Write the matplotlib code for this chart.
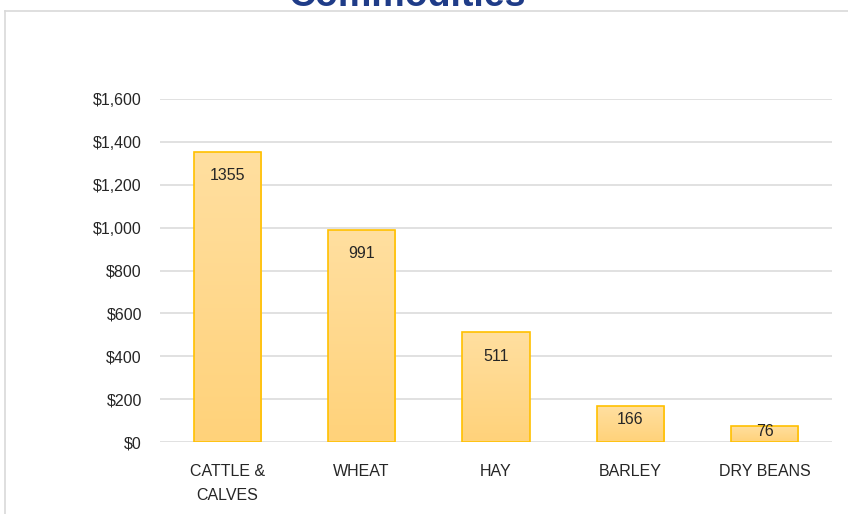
import numpy as np
import matplotlib.pyplot as plt
from matplotlib.lines import Line2D
from matplotlib.ticker import FuncFormatter
from matplotlib.colors import LinearSegmentedColormap

# Chart data
categories = ['CATTLE &\nCALVES', 'WHEAT', 'HAY', 'BARLEY', 'DRY BEANS']
values = [1355, 991, 511, 166, 76]
title = 'Commodities'

plt.rcParams['font.family'] = ['Liberation Sans', 'DejaVu Sans']

fig = plt.figure(figsize=(8.48, 5.14), dpi=100)
ax = fig.add_axes([0.1887, 0.14, 0.7923, 0.6674])

x_pos = np.arange(len(categories))
bars = ax.bar(x_pos, values, width=0.5, color='#FFD98B', edgecolor='#FFC000',
              linewidth=1.2, zorder=2)

# vertical gradient fill, lighter at top
grad = np.linspace(0, 1, 256).reshape(-1, 1)
cmap = LinearSegmentedColormap.from_list('g', ['#FFD27A', '#FFDFA0'])
for b in bars:
    x0, y0 = b.get_x(), b.get_y()
    w, h = b.get_width(), b.get_height()
    im = ax.imshow(grad, extent=[x0, x0 + w, y0, y0 + h], origin='lower',
                   cmap=cmap, aspect='auto', zorder=2.1)
    im.set_clip_path(b)
    b.set_facecolor('none')
    b.set_zorder(2.2)

# value labels inside the bar end
for xi, v in zip(x_pos, values):
    off = min(112, v * 0.38)
    ax.text(xi, v - off, str(v), ha='center', va='center', fontsize=11.5,
            color='#262626', zorder=3)

ax.set_xlim(-0.5, len(categories) - 0.5)
ax.set_ylim(0, 1600)
ax.set_yticks(np.arange(0, 1601, 200))
ax.yaxis.set_major_formatter(FuncFormatter(lambda v, p: '${:,.0f}'.format(v)))
ax.set_xticks(x_pos)
ax.set_xticklabels(categories, linespacing=1.75)
ax.tick_params(axis='both', length=0, labelsize=11.5, colors='#262626')
ax.tick_params(axis='x', pad=16)
ax.tick_params(axis='y', pad=13)
ax.yaxis.grid(True, color='#D9D9D9', linewidth=1.1, zorder=0)
ax.set_axisbelow(True)
for s in ax.spines.values():
    s.set_visible(False)

# chart area border (top and left edges visible)
top = 1 - 11 / 514
left = 5 / 848
fig.add_artist(Line2D([left, 1.01], [top, top], color='#D9D9D9', linewidth=1.2))
fig.add_artist(Line2D([left, left], [top, -0.01], color='#D9D9D9', linewidth=1.2))

# title, mostly cut off by the top edge as in the source
fig.text(0.48, 1 - 6 / 514, title, ha='center', va='baseline', fontsize=27,
         fontweight='bold', color='#1F3C88')

plt.savefig('out.png', dpi=100)
